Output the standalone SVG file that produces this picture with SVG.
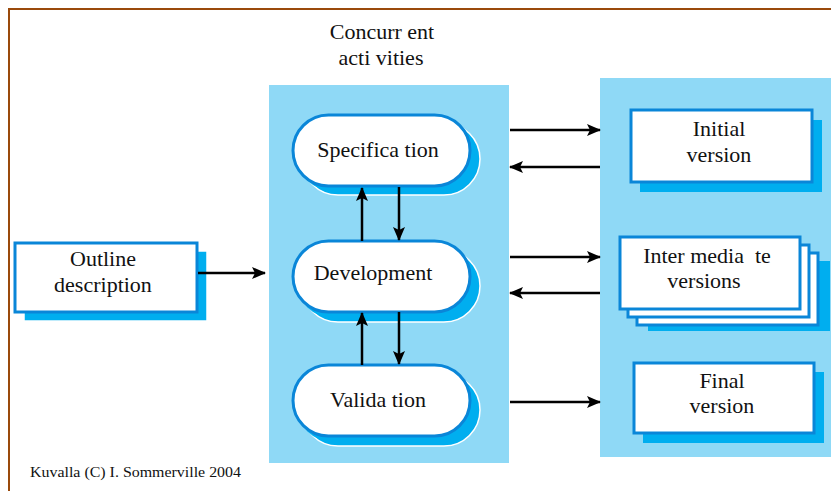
<svg xmlns="http://www.w3.org/2000/svg" width="831" height="491" viewBox="0 0 831 491">
  <style>
    text { font-family: 'Liberation Serif', 'Times New Roman', 'DejaVu Serif', serif; }
    .lbl { font-size: 22px; fill: #111; text-anchor: middle; white-space: pre; }
    .foot { font-size: 14px; fill: #111; }
    .panel { fill: #8fd9f6; }
    .shadow { fill: #00aeef; }
    .shadow2 { fill: #00aeef; stroke: #ffffff; stroke-width: 1.5; }
    .box { fill: #ffffff; stroke: #0a86d8; stroke-width: 3; }
    .conn { stroke: #000; stroke-width: 2.5; fill: none; marker-end: url(#arrow); }
  </style>
  <defs>
    <marker id="arrow" viewBox="0 0 14 12" refX="13" refY="6" markerWidth="14" markerHeight="12" markerUnits="userSpaceOnUse" orient="auto">
      <path d="M0,0 L14,6 L0,12 L3,6 Z" fill="#000"/>
    </marker>
  </defs>

  <rect width="831" height="491" fill="#ffffff"/>
  <!-- page frame -->
  <rect x="9" y="9" width="900" height="600" fill="none" stroke="#9a4a0c" stroke-width="2"/>

  <!-- backgrounds -->
  <rect class="panel" x="269" y="85" width="240" height="378"/>
  <rect class="panel" x="600" y="78" width="240" height="379"/>

  <text class="lbl" x="382" y="39">Concurr ent</text>
  <text class="lbl" x="381" y="65">acti vities</text>

  <g id="outline">
    <rect class="shadow2" x="24" y="251" width="183" height="70"/>
    <rect class="box" x="15" y="243" width="182" height="69"/>
    <text class="lbl" x="103" y="266">Outline</text>
    <text class="lbl" x="103" y="292">description</text>
  </g>

  <g id="specification">
    <rect class="shadow2" x="302" y="123" width="178" height="72" rx="36"/>
    <rect class="shadow" x="297" y="119" width="178" height="72" rx="36"/>
    <rect class="box" x="293" y="115" width="177" height="71" rx="35.5"/>
    <text class="lbl" x="378" y="157">Specifica tion</text>
  </g>

  <g id="development">
    <rect class="shadow2" x="302" y="250" width="178" height="72" rx="36"/>
    <rect class="shadow" x="297" y="246" width="178" height="72" rx="36"/>
    <rect class="box" x="293" y="241" width="177" height="71" rx="35.5"/>
    <text class="lbl" x="373" y="280">Development</text>
  </g>

  <g id="validation">
    <rect class="shadow2" x="302" y="374" width="178" height="72" rx="36"/>
    <rect class="shadow" x="297" y="370" width="178" height="72" rx="36"/>
    <rect class="box" x="293" y="365" width="177" height="71" rx="35.5"/>
    <text class="lbl" x="378" y="407">Valida tion</text>
  </g>

  <g id="initial">
    <rect class="shadow" x="640" y="120" width="182" height="72"/>
    <rect class="box" x="631" y="110" width="181" height="72"/>
    <text class="lbl" x="719" y="136">Initial</text>
    <text class="lbl" x="719" y="162">version</text>
  </g>

  <g id="intermediate">
    <rect class="shadow" x="648" y="261" width="182" height="70"/>
    <rect class="box" x="637" y="253" width="181" height="72"/>
    <rect class="box" x="628" y="245" width="181" height="72"/>
    <rect class="box" x="620" y="237" width="180" height="72"/>
    <text class="lbl" x="707" y="263" xml:space="preserve">Inter media  te</text>
    <text class="lbl" x="704" y="288">versions</text>
  </g>

  <g id="final">
    <rect class="shadow" x="643" y="372" width="181" height="71"/>
    <rect class="box" x="634" y="363" width="180" height="70"/>
    <text class="lbl" x="722" y="388">Final</text>
    <text class="lbl" x="722" y="413">version</text>
  </g>

  <g id="connectors">
    <line class="conn" x1="198" y1="273" x2="265" y2="273"/>
    <line class="conn" x1="362" y1="241" x2="362" y2="188"/>
    <line class="conn" x1="399" y1="187" x2="399" y2="240"/>
    <line class="conn" x1="362" y1="365" x2="362" y2="313"/>
    <line class="conn" x1="399" y1="312" x2="399" y2="364"/>
    <line class="conn" x1="510" y1="130" x2="600" y2="130"/>
    <line class="conn" x1="600" y1="167" x2="510" y2="167"/>
    <line class="conn" x1="510" y1="257" x2="600" y2="257"/>
    <line class="conn" x1="600" y1="293" x2="510" y2="293"/>
    <line class="conn" x1="510" y1="402" x2="600" y2="402"/>
  </g>

  <text class="foot" x="30" y="477" textLength="211" lengthAdjust="spacingAndGlyphs">Kuvalla (C) I. Sommerville 2004</text>
</svg>
